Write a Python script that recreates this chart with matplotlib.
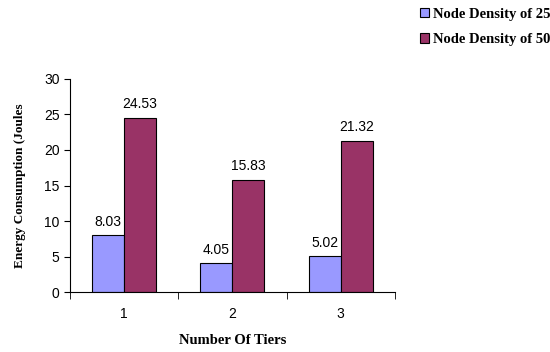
import matplotlib
matplotlib.use("Agg")
import matplotlib.pyplot as plt
import numpy as np

tiers = ["1", "2", "3"]
density_25 = [8.03, 4.05, 5.02]
density_50 = [24.53, 15.83, 21.32]
series_names = ["Node Density of 25", "Node Density of 50"]

fig = plt.figure(figsize=(5.5, 3.52), dpi=100)
ax = fig.add_axes([0.127, 0.170, 0.591, 0.606])

x = np.arange(len(tiers))
w = 0.295
b1 = ax.bar(x - w / 2, density_25, w, color="#9999FF", edgecolor="black", linewidth=0.8)
b2 = ax.bar(x + w / 2, density_50, w, color="#993366", edgecolor="black", linewidth=0.8)

for bars, vals in ((b1, density_25), (b2, density_50)):
    for r, v in zip(bars, vals):
        ax.text(r.get_x() + r.get_width() / 2, v + 0.9, f"{v:.2f}",
                ha="center", va="bottom", fontsize=10, family="Liberation Sans")

ax.set_xlim(-0.5, len(tiers) - 0.5)
ax.set_ylim(0, 30)
ax.set_yticks(range(0, 31, 5))
ax.set_xticks(x)
ax.set_xticklabels(tiers)
ax.set_xticks(np.arange(-0.5, len(tiers), 1.0), minor=True)
ax.tick_params(axis="x", which="major", length=0, pad=11)
ax.tick_params(axis="x", which="minor", length=5, direction="out")
ax.tick_params(axis="y", length=4, direction="out")
for lab in ax.get_xticklabels() + ax.get_yticklabels():
    lab.set_family("Liberation Sans")
    lab.set_fontsize(10)

for s in ("top", "right"):
    ax.spines[s].set_visible(False)
for s in ("left", "bottom"):
    ax.spines[s].set_linewidth(0.8)

ax.set_xlabel("Number Of Tiers", family="Liberation Serif", fontweight="bold",
              fontsize=10.5, labelpad=9)
ax.set_ylabel("Energy Consumption (Joules", family="Liberation Serif",
              fontweight="bold", fontsize=9.5, labelpad=13)

leg = fig.legend([b1, b2], series_names, loc="upper left",
                 bbox_to_anchor=(0.74, 1.015), frameon=False,
                 prop={"family": "Liberation Serif", "weight": "bold", "size": 10.5},
                 handlelength=0.6, handleheight=0.6, handletextpad=0.25,
                 labelspacing=0.85)

fig.savefig("out.png", dpi=100)
